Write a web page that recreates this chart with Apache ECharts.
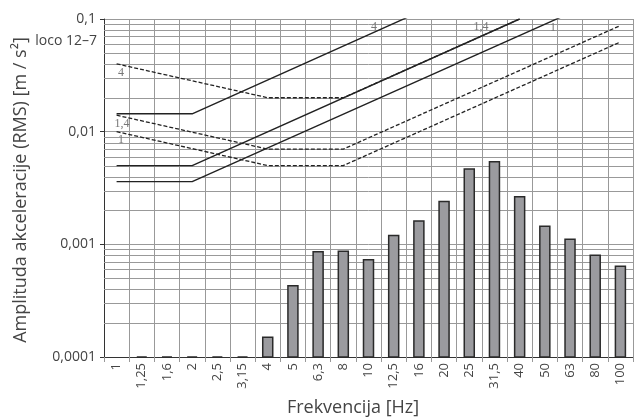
<!DOCTYPE html>
<html>
<head>
<meta charset="utf-8">
<script src="https://cdn.jsdelivr.net/npm/echarts@6/dist/echarts.min.js"></script>
<style>html,body{margin:0;padding:0;background:#fff}#c{width:634px;height:418px}</style>
</head>
<body>
<div id="c"></div>
<script>
// Categories (1/3-octave frequencies, Hz)
var categories = ['1','1,25','1,6','2','2,5','3,15','4','5','6,3','8','10','12,5','16','20','25','31,5','40','50','63','80','100'];
// Measured RMS acceleration (bars)
var measured = [null, 0.0001, 0.0001, 0.0001, 0.0001, 0.0001, 0.00015, 0.00043, 0.00086, 0.00087, 0.00073, 0.0012, 0.00161, 0.0024, 0.00466, 0.0054, 0.00265, 0.00145, 0.00111, 0.0008, 0.00064];
// Limit curves (solid) – values at bend points [category, value]
var solid4  = [['1', 0.0144], ['2', 0.0144], ['16', 0.115]];
var solid14 = [['1', 0.005], ['2', 0.005], ['40', 0.1]];
var solid1  = [['1', 0.0036], ['2', 0.0036], ['63', 0.113]];
// Limit curves (dashed)
var dashed4  = [['1', 0.04], ['4', 0.02], ['8', 0.02], ['40', 0.1]];
var dashed14 = [['1', 0.014], ['4', 0.007], ['8', 0.007], ['100', 0.0875]];
var dashed1  = [['1', 0.01], ['4', 0.005], ['8', 0.005], ['100', 0.0625]];
// Y axis range and tick labels
var yMin = 0.0001, yMax = 0.1;
var yTickLabels = {'0.0001': '0,0001', '0.001': '0,001', '0.01': '0,01', '0.1': '0,1'};
// Minor grid values
var minorGrid = [0.0002,0.0003,0.0004,0.0005,0.0006,0.0007,0.0008,0.0009,
                 0.002,0.003,0.004,0.005,0.006,0.007,0.008,0.009,
                 0.02,0.03,0.04,0.05,0.06,0.07,0.08,0.09];

var FONT = '"Open Sans", "Noto Sans", sans-serif';
var chart = echarts.init(document.getElementById('c'), null, {renderer: 'canvas'});

function lineSeries(data, dashed) {
  return {
    type: 'line', data: data, connectNulls: true, symbol: 'none', showSymbol: false,
    silent: true, z: 4, clip: true,
    lineStyle: dashed ? {color: '#222', width: 1.3, type: [4, 2]} : {color: '#222', width: 1.4}
  };
}

var serif = '"Liberation Serif", "DejaVu Serif", serif';
function curveLabel(txt, x, y) {
  return {type: 'text', x: x, y: y, z: 10, silent: true,
    style: {text: txt, font: '12px ' + serif, fill: '#777', align: 'center', verticalAlign: 'middle'}};
}

var barData = [];
measured.forEach(function (v, i) { if (v != null) barData.push([i, v]); });
var minorData = minorGrid.map(function (v) { return [0, v]; });

chart.setOption({
  animation: false,
  backgroundColor: '#fff',
  grid: {left: 104, right: 1, top: 19, bottom: 61, containLabel: false},
  xAxis: {
    type: 'category', data: categories, boundaryGap: true,
    axisLine: {show: true, lineStyle: {color: '#333', width: 1}},
    axisTick: {show: true, length: 5, interval: 0, alignWithLabel: false, lineStyle: {color: '#999'}},
    axisLabel: {rotate: 90, interval: 0, fontSize: 13, color: '#444', margin: 6, fontFamily: FONT},
    splitLine: {show: true, interval: 0, lineStyle: {color: '#999', width: 1}}
  },
  yAxis: {
    type: 'log', logBase: 10, min: yMin, max: yMax,
    axisLine: {show: true, lineStyle: {color: '#333', width: 1}},
    axisTick: {show: true, length: 4, lineStyle: {color: '#333'}},
    axisLabel: {fontSize: 14, color: '#444', margin: 8, fontFamily: FONT,
      formatter: function (v) { var k = String(+v.toPrecision(3)); return yTickLabels[k] || ''; }},
    splitLine: {show: true, lineStyle: {color: '#999', width: 1}}
  },
  series: [
    {
      // minor horizontal grid lines at 2..9 of each decade
      type: 'custom', data: minorData, z: 1, silent: true, encode: {x: 0, y: 1},
      renderItem: function (params, api) {
        var y = Math.round(api.coord([0, api.value(1)])[1]) + 0.5;
        var cs = params.coordSys;
        return {
          type: 'line', silent: true,
          shape: {x1: cs.x, y1: y, x2: cs.x + cs.width, y2: y},
          style: {stroke: '#999', lineWidth: 1}
        };
      }
    },
    {
      type: 'custom', data: barData, z: 2, silent: true, encode: {x: 0, y: 1},
      renderItem: function (params, api) {
        var top = api.coord([api.value(0), api.value(1)]);
        var base = api.coord([api.value(0), yMin]);
        var w = 10;
        return {
          type: 'rect',
          shape: {x: top[0] - w / 2, y: top[1], width: w, height: base[1] - top[1]},
          style: {fill: '#9b9b9f', stroke: '#2a2a2a', lineWidth: 1.5}
        };
      }
    },
    lineSeries(solid4, false),
    lineSeries(solid14, false),
    lineSeries(solid1, false),
    lineSeries(dashed4, true),
    lineSeries(dashed14, true),
    lineSeries(dashed1, true)
  ],
  graphic: [
    {type: 'text', x: 21, y: 190, rotation: Math.PI / 2, silent: true,
      style: {text: 'Amplituda akceleracije (RMS) [m / s²]', font: '18px ' + FONT, fill: '#444', align: 'center', verticalAlign: 'middle'}},
    {type: 'text', x: 353, y: 408, silent: true,
      style: {text: 'Frekvencija [Hz]', font: '18px ' + FONT, fill: '#444', align: 'center', verticalAlign: 'middle'}},
    {type: 'text', x: 97, y: 41, silent: true,
      style: {text: 'loco 12–7', font: '14px ' + FONT, fill: '#444', align: 'right', verticalAlign: 'middle'}},
    curveLabel('4', 374, 27),
    curveLabel('1,4', 481, 27),
    curveLabel('1', 553, 28),
    curveLabel('4', 121, 73),
    curveLabel('1,4', 122, 124),
    curveLabel('1', 121, 140)
  ]
});
</script>
</body>
</html>
